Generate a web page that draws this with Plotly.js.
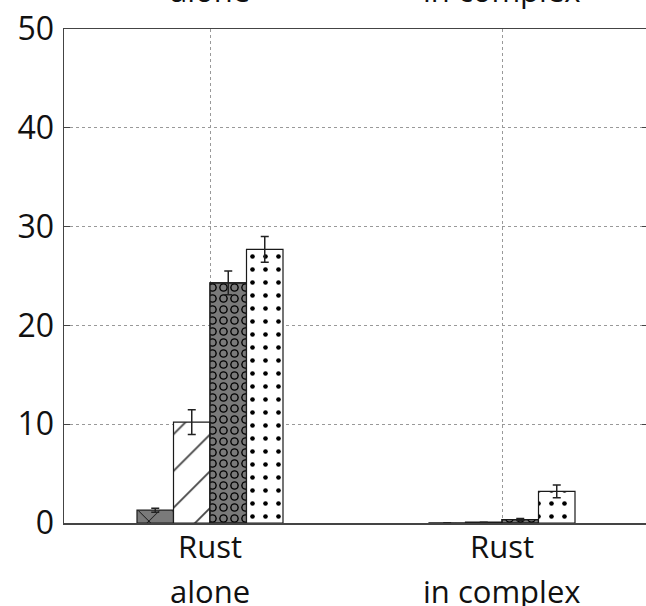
<!DOCTYPE html>
<html>
<head>
<meta charset="utf-8">
<script src="https://cdn.plot.ly/plotly-3.0.1.min.js"></script>
<style>
html,body{margin:0;padding:0;overflow:hidden;background:#fff;}
#chart{width:650px;height:606px;}
</style>
</head>
<body>
<div id="chart"></div>
<script>
// ---- data ----
const categories = ["Rust alone", "Rust in complex"];
const labelLine1 = ["Rust", "Rust"];
const labelLine2 = ["alone", "in complex"];

const s1Values = [1.3, 0.02];
const s1Errors = [0.2, 0.0];
const s2Values = [10.2, 0.08];
const s2Errors = [1.25, 0.0];
const s3Values = [24.3, 0.35];
const s3Errors = [1.2, 0.1];
const s4Values = [27.7, 3.2];
const s4Errors = [1.3, 0.65];

const yTicks = [0, 10, 20, 30, 40, 50];

// ---- styles ----
const GRAY = '#7a7a7a';
const OUT = {color: '#1a1a1a', width: 1.2};
const ERR = (arr) => ({type: 'data', array: arr, visible: true, color: '#222', thickness: 1.5, width: 4});
const BW = 0.125;

const traces = [
  {type: 'bar', x: categories, y: s1Values, width: BW, offset: -0.25,
   marker: {color: GRAY, line: OUT,
            pattern: {shape: 'x', fillmode: 'overlay', bgcolor: GRAY, fgcolor: '#111', fgopacity: 1, size: 24, solidity: 0.08}},
   error_y: ERR(s1Errors), hoverinfo: 'skip'},
  {type: 'bar', x: categories, y: s2Values, width: BW, offset: -0.125,
   marker: {color: '#ffffff', line: OUT,
            pattern: {shape: '/', fillmode: 'overlay', bgcolor: '#ffffff', fgcolor: '#444', fgopacity: 1, size: 26, solidity: 0.07}},
   error_y: ERR(s2Errors), hoverinfo: 'skip'},
  // circles: outer dark rings
  {type: 'bar', x: categories, y: s3Values, width: BW, offset: 0,
   marker: {color: GRAY, line: OUT,
            pattern: {shape: '.', fillmode: 'overlay', bgcolor: GRAY, fgcolor: '#000', fgopacity: 1, size: 11, solidity: 0.48}},
   hoverinfo: 'skip'},
  // circles: inner gray fill -> rings
  {type: 'bar', x: categories, y: s3Values, width: BW, offset: 0,
   marker: {color: 'rgba(0,0,0,0)', line: OUT,
            pattern: {shape: '.', fillmode: 'overlay', bgcolor: 'rgba(0,0,0,0)', fgcolor: GRAY, fgopacity: 1, size: 11, solidity: 0.22}},
   error_y: ERR(s3Errors), hoverinfo: 'skip'},
  {type: 'bar', x: categories, y: s4Values, width: BW, offset: 0.125,
   marker: {color: '#ffffff', line: OUT,
            pattern: {shape: '.', fillmode: 'overlay', bgcolor: '#ffffff', fgcolor: '#000', fgopacity: 1, size: 13, solidity: 0.1}},
   error_y: ERR(s4Errors), hoverinfo: 'skip'}
];

const FONT = '"Open Sans", "Noto Sans", sans-serif';
const annotations = [];
categories.forEach((c, i) => {
  annotations.push({x: c, xref: 'x', y: 0, yref: 'paper', yanchor: 'top', yshift: 0,
    text: labelLine1[i], showarrow: false, font: {family: FONT, size: 31, color: '#111'}});
  annotations.push({x: c, xref: 'x', y: 0, yref: 'paper', yanchor: 'top', yshift: -45,
    text: labelLine2[i], showarrow: false, font: {family: FONT, size: 31, color: '#111'}});
  // cut-off labels of the panel above
  annotations.push({x: c, xref: 'x', y: 1, yref: 'paper', yanchor: 'bottom', yshift: 16,
    text: labelLine2[i], showarrow: false, font: {family: FONT, size: 31, color: '#111'}});
});

const layout = {
  width: 650, height: 606,
  margin: {l: 64, r: 2, t: 29, b: 83},
  paper_bgcolor: '#fff', plot_bgcolor: '#fff',
  barmode: 'overlay',
  showlegend: false,
  xaxis: {type: 'category', range: [-0.5, 1.5], showticklabels: false, ticks: '',
          showgrid: true, gridcolor: '#999', griddash: 'dot', gridwidth: 1,
          showline: true, linecolor: '#444', linewidth: 1.5, mirror: true, zeroline: false},
  yaxis: {range: [0, 50], tickvals: yTicks, ticktext: yTicks.map(String),
          ticks: 'inside', ticklen: 6, tickcolor: '#444', tickwidth: 1.2,
          showgrid: true, gridcolor: '#999', griddash: 'dot', gridwidth: 1,
          showline: true, linecolor: '#444', linewidth: 1.5, mirror: 'ticks', zeroline: false,
          tickfont: {family: FONT, size: 32, color: '#111'}, ticklabelstandoff: 2},
  annotations: annotations
};

Plotly.newPlot('chart', traces, layout, {staticPlot: true, displayModeBar: false});
</script>
</body>
</html>
